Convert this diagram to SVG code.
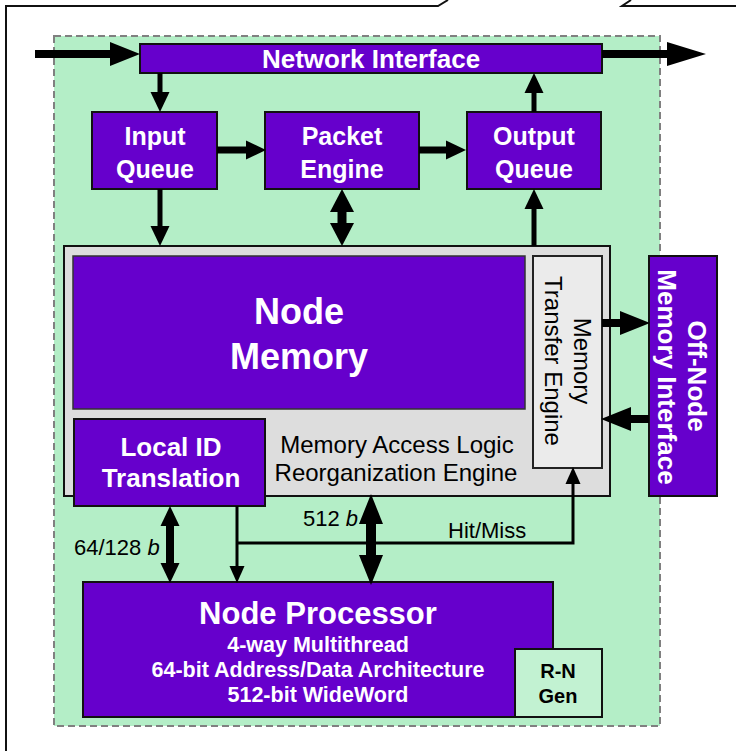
<svg xmlns="http://www.w3.org/2000/svg" width="736" height="751" viewBox="0 0 736 751">
<style>
.pbox{fill:#6600CC;stroke:#111;stroke-width:2}
.wt{fill:#fff;font-family:"Liberation Sans",Arial,sans-serif;font-weight:bold;text-anchor:middle}
.bt{fill:#000;font-family:"Liberation Sans",Arial,sans-serif;text-anchor:middle}
.lb{fill:#000;font-family:"Liberation Sans",Arial,sans-serif;font-size:22px}
.c{fill:none;stroke:#000}
</style>
<defs>
<marker id="mXL" markerUnits="userSpaceOnUse" markerWidth="39" markerHeight="24" refX="0" refY="12" orient="auto-start-reverse" overflow="visible"><path d="M0,0 L39,12 L0,24z"/></marker>
<marker id="mL" markerUnits="userSpaceOnUse" markerWidth="30" markerHeight="24" refX="0" refY="12" orient="auto-start-reverse" overflow="visible"><path d="M0,0 L30,12 L0,24z"/></marker>
<marker id="mP" markerUnits="userSpaceOnUse" markerWidth="23" markerHeight="24" refX="0" refY="12" orient="auto-start-reverse" overflow="visible"><path d="M0,0 L23,12 L0,24z"/></marker>
<marker id="mM" markerUnits="userSpaceOnUse" markerWidth="20" markerHeight="19" refX="0" refY="9.5" orient="auto-start-reverse" overflow="visible"><path d="M0,0 L20,9.5 L0,19z"/></marker>
<marker id="mS" markerUnits="userSpaceOnUse" markerWidth="17" markerHeight="15" refX="0" refY="7.5" orient="auto-start-reverse" overflow="visible"><path d="M0,0 L17,7.5 L0,15z"/></marker>
</defs>
<rect width="736" height="751" fill="#fff"/>
<g id="frame">
<rect x="54" y="36" width="606" height="690" fill="#B4EEC7" stroke="#808080" stroke-width="2" stroke-dasharray="7,4"/>
<path d="M6,751 V6 H438 L448,0 M631,0 L622,6 H736" fill="none" stroke="#111" stroke-width="2"/>
</g>
<g id="network-interface">
<rect class="pbox" x="140" y="44" width="462" height="29"/>
<text class="wt" x="371" y="68" font-size="26">Network Interface</text>
</g>
<g id="input-queue">
<rect class="pbox" x="92" y="112" width="125" height="77"/>
<text class="wt" x="155" y="145" font-size="25">Input</text>
<text class="wt" x="155" y="178" font-size="25">Queue</text>
</g>
<g id="packet-engine">
<rect class="pbox" x="265" y="112" width="154" height="77"/>
<text class="wt" x="342" y="145" font-size="25">Packet</text>
<text class="wt" x="342" y="178" font-size="25">Engine</text>
</g>
<g id="output-queue">
<rect class="pbox" x="467" y="112" width="134" height="77"/>
<text class="wt" x="534" y="145" font-size="25">Output</text>
<text class="wt" x="534" y="178" font-size="25">Queue</text>
</g>
<g id="memory-access-logic">
<rect x="64" y="246" width="546" height="250" fill="#DDDDDD" stroke="#111" stroke-width="2"/>
<text class="bt" x="397" y="453" font-size="24">Memory Access Logic</text>
<text class="bt" x="396" y="481" font-size="24">Reorganization Engine</text>
</g>
<g id="node-memory">
<rect x="73" y="256" width="452" height="153" fill="#6600CC" stroke="#333" stroke-width="1.5"/>
<text class="wt" x="299" y="324" font-size="36">Node</text>
<text class="wt" x="299" y="369" font-size="36">Memory</text>
</g>
<g id="memory-transfer-engine">
<rect x="533" y="256" width="69" height="212" fill="#EBEBEB" stroke="#222" stroke-width="2"/>
<text class="bt" font-size="24" transform="translate(574,361) rotate(90)">Memory</text>
<text class="bt" font-size="24" transform="translate(545,361) rotate(90)">Transfer Engine</text>
</g>
<g id="off-node-memory-interface">
<rect class="pbox" x="649" y="256" width="68" height="240"/>
<text class="wt" font-size="26" transform="translate(688,376) rotate(90)">Off-Node</text>
<text class="wt" font-size="26" transform="translate(658,377) rotate(90)">Memory Interface</text>
</g>
<g id="local-id-translation">
<rect class="pbox" x="74" y="419" width="191" height="87"/>
<text class="wt" x="171" y="456" font-size="26">Local ID</text>
<text class="wt" x="171" y="487" font-size="26">Translation</text>
</g>
<g id="node-processor">
<rect class="pbox" x="83" y="582" width="470" height="135"/>
<text class="wt" x="318" y="624" font-size="31">Node Processor</text>
<text class="wt" x="318" y="652" font-size="21.5">4-way Multithread</text>
<text class="wt" x="318" y="677" font-size="21.5">64-bit Address/Data Architecture</text>
<text class="wt" x="318" y="702" font-size="21.5">512-bit WideWord</text>
</g>
<g id="rn-gen">
<rect x="515" y="649" width="87" height="68" fill="#C2F2D2" stroke="#111" stroke-width="2"/>
<text class="bt" x="558" y="678" font-size="20" font-weight="bold">R-N</text>
<text class="bt" x="558" y="703" font-size="20" font-weight="bold">Gen</text>
</g>
<g id="connectors">
<line class="c" x1="35" y1="54" x2="110" y2="54" stroke-width="8" marker-end="url(#mL)"/>
<line class="c" x1="602" y1="54" x2="667" y2="54" stroke-width="8" marker-end="url(#mXL)"/>
<line class="c" x1="160" y1="73" x2="160" y2="92" stroke-width="5" marker-end="url(#mM)"/>
<line class="c" x1="160" y1="189" x2="160" y2="226" stroke-width="5" marker-end="url(#mM)"/>
<line class="c" x1="217" y1="150" x2="246" y2="150" stroke-width="7" marker-end="url(#mM)"/>
<line class="c" x1="419" y1="150" x2="446" y2="150" stroke-width="7" marker-end="url(#mM)"/>
<line class="c" x1="342" y1="212" x2="342" y2="223" stroke-width="9" marker-start="url(#mP)" marker-end="url(#mP)"/>
<line class="c" x1="534" y1="246" x2="534" y2="209" stroke-width="5" marker-end="url(#mM)"/>
<line class="c" x1="534" y1="112" x2="534" y2="93" stroke-width="5" marker-end="url(#mM)"/>
<line class="c" x1="602" y1="323" x2="620" y2="323" stroke-width="8" marker-end="url(#mL)"/>
<line class="c" x1="649" y1="419" x2="631" y2="419" stroke-width="8" marker-end="url(#mL)"/>
<line class="c" x1="170" y1="526" x2="170" y2="563" stroke-width="8" marker-start="url(#mM)" marker-end="url(#mM)"/>
<line class="c" x1="237" y1="506" x2="237" y2="566" stroke-width="3" marker-end="url(#mS)"/>
<path class="c" d="M237,543 H573 V484" stroke-width="3" marker-end="url(#mS)"/>
<line class="c" x1="371" y1="524" x2="371" y2="555" stroke-width="10" marker-start="url(#mL)" marker-end="url(#mL)"/>
<text class="lb" x="74" y="555">64/128 <tspan font-style="italic">b</tspan></text>
<text class="lb" x="303" y="526">512 <tspan font-style="italic">b</tspan></text>
<text class="lb" x="448" y="538">Hit/Miss</text>
</g>
</svg>
